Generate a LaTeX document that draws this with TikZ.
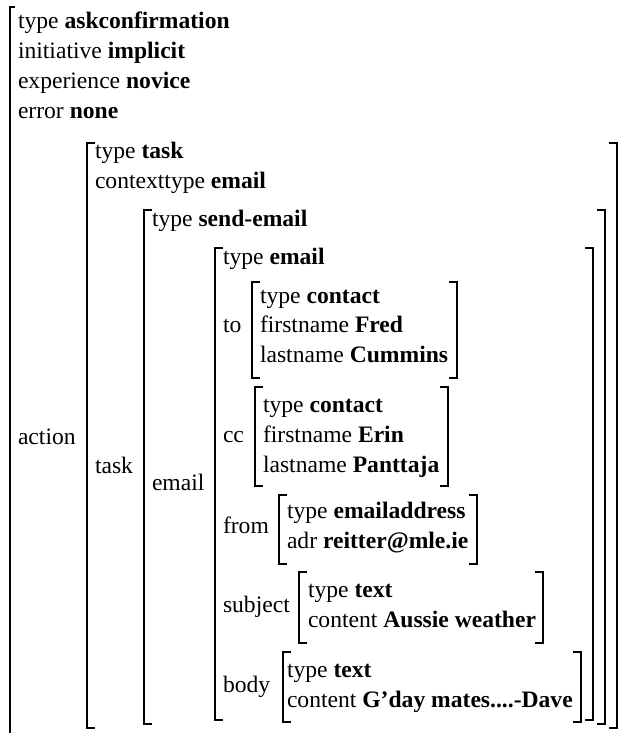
\documentclass[tikz,border=0pt]{standalone}
\usepackage{fontspec}
\setmainfont{Liberation Serif}
\begin{document}
\begin{tikzpicture}[x=1pt,y=-1pt,
  txt/.style={anchor=base west,inner sep=0pt,outer sep=0pt,font=\fontsize{23.6}{29}\selectfont},
  brk/.style={line width=1.6pt,line cap=butt,line join=miter}]
\useasboundingbox (0,0) rectangle (623,733);
\newcommand{\avmbr}[4]{% left x, right x, top y, bottom y
  \draw[brk] (#1+8,#3) -- (#1,#3) -- (#1,#4) -- (#1+8,#4);
  \draw[brk] (#2-8,#3) -- (#2,#3) -- (#2,#4) -- (#2-8,#4);}
% outer bracket (left side only visible)
\draw[brk] (15,7) -- (10,7) -- (10,733);
% nested brackets
\avmbr{87}{617}{143}{728}
\avmbr{144}{605}{210}{724}
\avmbr{215}{593}{248}{720}
\avmbr{252}{457}{282}{378}
\avmbr{255}{448}{387}{486}
\avmbr{279}{477}{495}{564}
\avmbr{299}{543}{572}{643}
\avmbr{283}{581}{652}{722}
% outer
\node[txt] (o1) at (18,29) {type \textbf{askconfirmation}};
\node[txt] (o2) at (18,59) {initiative \textbf{implicit}};
\node[txt] (o3) at (18,89) {experience \textbf{novice}};
\node[txt] (o4) at (18,119) {error \textbf{none}};
\node[txt] (laction) at (18,444) {action};
% task
\node[txt] (t1) at (95,158) {type \textbf{task}};
\node[txt] (t2) at (95,188) {contexttype \textbf{email}};
\node[txt] (ltask) at (95,473) {task};
% send-email
\node[txt] (s1) at (152,226) {type \textbf{send-email}};
\node[txt] (lemail) at (152,490) {email};
% email
\node[txt] (e1) at (223,264) {type \textbf{email}};
\node[txt] (lto) at (223,332) {to};
\node[txt] (lcc) at (223,442) {cc};
\node[txt] (lfrom) at (223,533) {from};
\node[txt] (lsubject) at (223,612) {subject};
\node[txt] (lbody) at (223,692) {body};
% to
\node[txt] (to1) at (260,303) {type \textbf{contact}};
\node[txt] (to2) at (260,332) {firstname \textbf{Fred}};
\node[txt] (to3) at (260,362) {lastname \textbf{Cummins}};
% cc
\node[txt] (cc1) at (263,412) {type \textbf{contact}};
\node[txt] (cc2) at (263,442) {firstname \textbf{Erin}};
\node[txt] (cc3) at (263,472) {lastname \textbf{Panttaja}};
% from
\node[txt] (fr1) at (287,518) {type \textbf{emailaddress}};
\node[txt] (fr2) at (287,548) {adr \textbf{reitter@mle.ie}};
% subject
\node[txt] (su1) at (308,597) {type \textbf{text}};
\node[txt] (su2) at (308,627) {content \textbf{Aussie weather}};
% body
\node[txt] (bo1) at (287,677) {type \textbf{text}};
\node[txt] (bo2) at (287,707) {content \textbf{G’day mates....-Dave}};
\end{tikzpicture}
\end{document}
